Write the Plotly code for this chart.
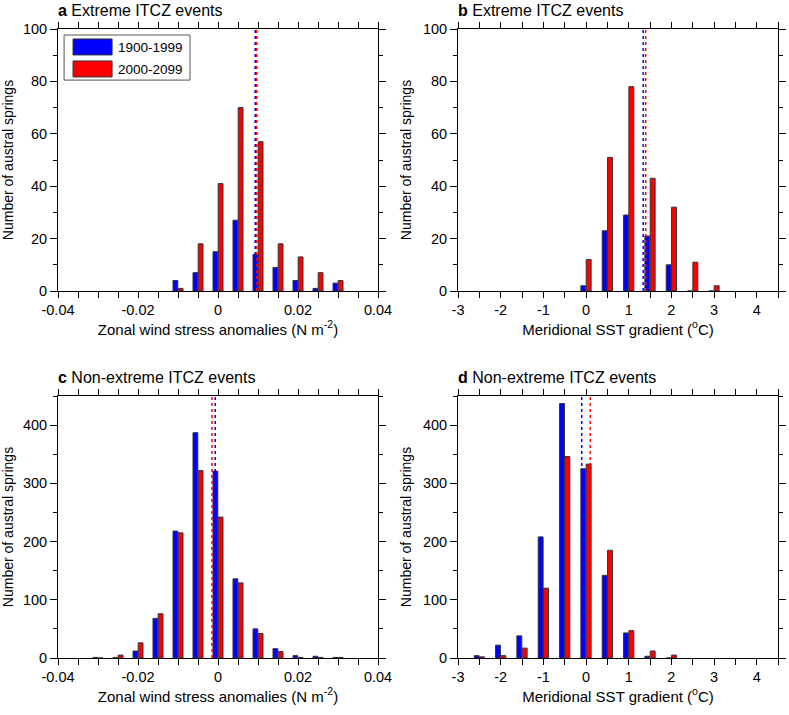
import plotly.graph_objects as go

# histogram bins and counts
wind_bins_ext = [-0.01, -0.005, 0, 0.005, 0.01, 0.015, 0.02, 0.025, 0.03]
wind_ext_20c = [4, 7, 15, 27, 14, 9, 4, 1, 3]
wind_ext_21c = [1, 18, 41, 70, 57, 18, 13, 7, 4]
wind_mean_ext = [0.0093, 0.0097]

sst_bins_ext = [0, 0.5, 1, 1.5, 2, 2.5, 3]
sst_ext_20c = [2, 23, 29, 21, 10, 0, 0]
sst_ext_21c = [12, 51, 78, 43, 32, 11, 2]
sst_mean_ext = [1.34, 1.40]

wind_bins_non = [-0.03, -0.025, -0.02, -0.015, -0.01, -0.005, 0, 0.005, 0.01, 0.015, 0.02, 0.025, 0.03]
wind_non_20c = [1, 1, 12, 68, 218, 387, 321, 136, 50, 16, 4, 3, 1]
wind_non_21c = [0, 5, 26, 76, 215, 322, 242, 129, 42, 11, 1, 1, 1]
wind_mean_non = [-0.0007, -0.0015]

sst_bins_non = [-2.5, -2, -1.5, -1, -0.5, 0, 0.5, 1, 1.5, 2]
sst_non_20c = [4, 22, 38, 208, 437, 325, 142, 43, 3, 0]
sst_non_21c = [2, 4, 17, 120, 346, 333, 185, 47, 12, 5]
sst_mean_non = [-0.1, 0.1]

periods = ["1900-1999", "2000-2099"]
colors = ["#0000ff", "#ff0000"]

W, H = 789, 715
FONT = "Liberation Sans, Arial, Helvetica, sans-serif"

# plot boxes in screen pixels: left, right, top, bottom
boxes = {
    1: (58, 378, 29, 291),
    2: (458, 778, 29, 291),
    3: (58, 378, 396, 658),
    4: (458, 778, 396, 658),
}

panels = [
    (1, "a", "Extreme ITCZ events", wind_bins_ext, [wind_ext_20c, wind_ext_21c], wind_mean_ext, "wind", 100),
    (2, "b", "Extreme ITCZ events", sst_bins_ext, [sst_ext_20c, sst_ext_21c], sst_mean_ext, "sst", 100),
    (3, "c", "Non-extreme ITCZ events", wind_bins_non, [wind_non_20c, wind_non_21c], wind_mean_non, "wind", 450),
    (4, "d", "Non-extreme ITCZ events", sst_bins_non, [sst_non_20c, sst_non_21c], sst_mean_non, "sst", 450),
]

fig = go.Figure()
layout = {}
annotations = []
shapes = []

for n, letter, title, bins, counts, means, kind, ytop in panels:
    xa = "x" if n == 1 else "x%d" % n
    ya = "y" if n == 1 else "y%d" % n
    l, r, t, b = boxes[n]

    if kind == "wind":
        bw, off = 0.0012, [-0.00125, 0.00005]
    else:
        bw, off = 0.115, [-0.12, 0.005]

    for k in range(2):
        fig.add_trace(go.Bar(
            x=bins, y=counts[k], width=bw, offset=off[k],
            marker=dict(color=colors[k], line=dict(color="#333333", width=1)),
            name=periods[k], showlegend=False, xaxis=xa, yaxis=ya))

    for k in range(2):
        shapes.append(dict(type="line", xref=xa, yref=ya, x0=means[k], x1=means[k],
                           y0=0, y1=ytop, line=dict(color=colors[k], width=1.5, dash="dot")))

    if kind == "wind":
        xr = [-0.04, 0.04]
        tv = [-0.04, -0.02, 0, 0.02, 0.04]
        tt = ["-0.04", "-0.02", "0", "0.02", "0.04"]
        mdt = 0.005
        xtitle = "Zonal wind stress anomalies (N m<sup>-2</sup>)"
    else:
        xr = [-3, 4.5]
        tv = [-3, -2, -1, 0, 1, 2, 3, 4]
        tt = ["-3", "-2", "-1", "0", "1", "2", "3", "4"]
        mdt = 0.5
        xtitle = "Meridional SST gradient (<sup>o</sup>C)"

    if ytop == 100:
        ydt, ymdt = 20, 10
    else:
        ydt, ymdt = 100, 50

    key = "" if n == 1 else str(n)
    layout["xaxis" + key] = dict(
        domain=[l / W, r / W], anchor=ya, range=xr, tickvals=tv, ticktext=tt,
        ticks="outside", ticklen=6, tickwidth=1, tickcolor="black",
        showline=True, linecolor="black", linewidth=1, mirror="ticks",
        showgrid=False, zeroline=False, automargin=False,
        minor=dict(dtick=mdt, tick0=0, ticks="outside", ticklen=6, tickcolor="black", showgrid=False),
        tickfont=dict(size=14.5, color="black"),
        title=dict(text=xtitle, font=dict(size=15, color="black"), standoff=6),
    )
    layout["yaxis" + key] = dict(
        domain=[1 - b / H, 1 - t / H], anchor=xa, range=[0, ytop], dtick=ydt,
        ticks="outside", ticklen=7, tickwidth=1, tickcolor="black",
        showline=True, linecolor="black", linewidth=1, mirror="ticks",
        showgrid=False, zeroline=False, automargin=False,
        minor=dict(dtick=ymdt, ticks="outside", ticklen=4, tickcolor="black", showgrid=False),
        tickfont=dict(size=14.5, color="black"),
        title=dict(text="Number of austral springs", font=dict(size=14, color="black"), standoff=7),
    )

    annotations.append(dict(
        xref="paper", yref="paper", x=l / W, y=1 - (t - 8) / H, xanchor="left", yanchor="bottom",
        text="<b>%s</b> %s" % (letter, title), showarrow=False,
        font=dict(size=16, color="black"), xshift=-2))

# legend box in panel a
shapes.append(dict(type="rect", xref="x domain", yref="y domain", x0=0.019, x1=0.4125,
                   y0=0.805, y1=0.977, line=dict(color="#555555", width=1), fillcolor="white"))
for k, (y0, y1, yt) in enumerate([(0.901, 0.962, 0.931), (0.817, 0.878, 0.847)]):
    shapes.append(dict(type="rect", xref="x domain", yref="y domain", x0=0.047, x1=0.169,
                       y0=y0, y1=y1, line=dict(color="#333333", width=1), fillcolor=colors[k]))
    annotations.append(dict(xref="x domain", yref="y domain", x=0.182, y=yt, xanchor="left",
                            yanchor="middle", text=periods[k], showarrow=False,
                            font=dict(size=13.5, color="black")))

fig.update_layout(
    width=W, height=H, margin=dict(l=0, r=0, t=0, b=0),
    paper_bgcolor="white", plot_bgcolor="white",
    font=dict(family=FONT, color="black"),
    barmode="overlay", showlegend=False,
    annotations=annotations, shapes=shapes,
    **layout,
)

# drop the default page margin so the figure sits at the window corner
fig.write_html("out.html", config={"displayModeBar": False},
               post_script="document.body.style.margin = '0';")
